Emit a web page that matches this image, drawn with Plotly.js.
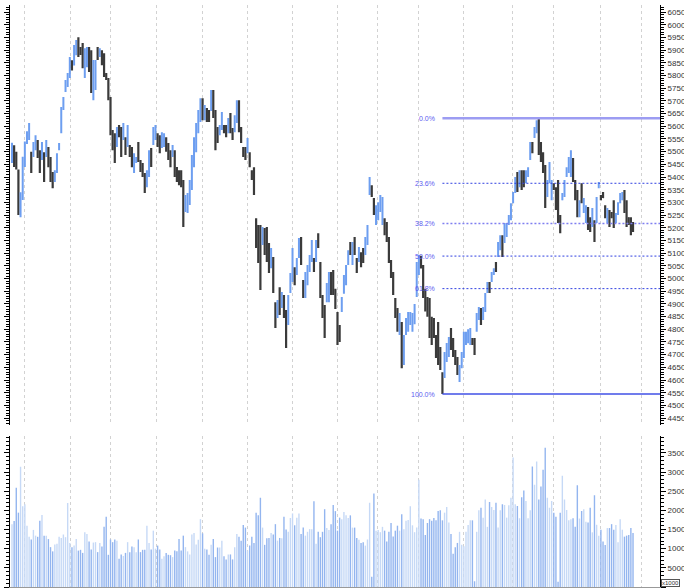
<!DOCTYPE html>
<html><head><meta charset="utf-8">
<script src="https://cdn.plot.ly/plotly-3.0.1.min.js"></script>
<style>html,body{margin:0;padding:0;background:#fff;}#chart{width:684px;height:588px;}</style>
</head><body><div id="chart"></div>
<script>
const openP = [
5470,5515,5465,5420,5260,5330,5460,5535,5560,5490,
5490,5515,5535,5495,5475,5490,5490,5510,5470,5410,
5385,5425,5510,5585,5670,5740,5765,5800,5855,5850,
5890,5940,5905,5915,5805,5845,5900,5885,5720,5755,
5905,5880,5890,5875,5805,5780,5700,5575,5560,5530,
5595,5585,5555,5545,5530,5520,5505,5425,5460,5525,
5460,5445,5405,5370,5410,5505,5535,5555,5565,5555,
5520,5525,5550,5525,5495,5485,5495,5430,5420,5415,
5375,5270,5265,5300,5360,5450,5510,5585,5625,5700,
5630,5665,5655,5665,5730,5650,5590,5570,5590,5600,
5595,5580,5640,5585,5585,5620,5690,5590,5510,5510,
5500,5490,5420,5425,5225,5195,5190,5140,5185,5190,
5125,5050,5070,4895,4855,4950,4890,4925,4860,4830,
4950,5000,5035,5020,5090,5150,4985,4935,4985,5035,
5075,5075,5075,5170,5050,4925,4880,4915,4920,5015,
5020,4950,4855,4810,4875,4950,4985,5060,5135,5065,
5155,5075,5070,5095,5110,5100,5140,5335,5360,5310,
5220,5240,5270,5225,5230,5215,5155,5065,5015,4915,
4875,4790,4815,4670,4785,4800,4825,4800,4830,4940,
5025,5080,5040,4950,4920,4905,4840,4835,4770,4815,
4720,4620,4620,4680,4700,4795,4755,4710,4680,4600,
4655,4700,4745,4750,4745,4760,4755,4800,4845,4875,
4845,4875,4950,4980,4990,5018,5060,5090,5120,5160,
5150,5170,5215,5240,5300,5345,5410,5365,5415,5420,
5380,5405,5475,5530,5560,5580,5620,5525,5490,5430,
5330,5385,5315,5370,5350,5375,5240,5312,5330,5405,
5420,5410,5465,5380,5340,5250,5365,5265,5225,5270,
5235,5210,5220,5225,5360,5325,5335,5280,5225,5260,
5258,5295,5222,5255,5300,5312,5340,5295,5238,5235,
5215];
const highP = [
5535,5525,5500,5430,5340,5480,5540,5580,5613,5500,
5538,5565,5546,5506,5538,5498,5546,5518,5479,5420,
5427,5494,5534,5676,5715,5782,5810,5873,5860,5920,
5940,5951,5912,5928,5908,5912,5912,5900,5861,5861,
5912,5908,5900,5888,5810,5790,5715,5585,5573,5597,
5605,5597,5613,5557,5605,5526,5518,5494,5479,5538,
5467,5455,5416,5427,5506,5514,5597,5605,5573,5565,
5577,5573,5557,5534,5506,5526,5506,5440,5427,5427,
5388,5329,5337,5388,5487,5557,5613,5664,5711,5711,
5684,5672,5664,5743,5743,5664,5597,5605,5656,5605,
5605,5633,5652,5593,5644,5703,5703,5597,5518,5518,
5554,5498,5427,5439,5238,5211,5211,5203,5199,5203,
5140,5120,5085,4907,4915,4966,4947,4935,4876,4935,
5022,5120,5045,5081,5160,5164,4994,5026,5053,5093,
5152,5081,5152,5179,5065,4935,4896,4982,5026,5026,
5034,4960,4868,4817,4927,5014,5053,5112,5144,5144,
5164,5081,5124,5104,5120,5164,5211,5400,5368,5317,
5289,5301,5329,5321,5238,5223,5164,5073,5026,4923,
4884,4864,4829,4778,4845,4868,4868,4864,4900,5065,
5093,5090,5053,4960,4927,4923,4849,4845,4778,4829,
4730,4631,4711,4746,4770,4805,4766,4718,4691,4659,
4711,4790,4790,4800,4805,4766,4766,4864,4888,4884,
4888,4943,4986,4986,5026,5041,5065,5144,5171,5171,
5219,5219,5250,5297,5341,5400,5420,5427,5427,5427,
5427,5439,5538,5538,5597,5624,5632,5538,5498,5447,
5388,5459,5388,5376,5360,5388,5250,5337,5388,5439,
5479,5506,5475,5388,5349,5309,5376,5317,5289,5282,
5242,5278,5230,5321,5380,5329,5341,5289,5278,5270,
5262,5309,5258,5301,5337,5341,5349,5309,5242,5242,
5223];
const lowP = [
5455,5440,5430,5250,5242,5310,5440,5530,5546,5416,
5479,5506,5475,5416,5467,5380,5479,5439,5380,5356,
5380,5416,5506,5573,5664,5735,5755,5790,5820,5840,
5880,5873,5881,5829,5790,5833,5814,5731,5703,5743,
5861,5873,5841,5794,5782,5703,5565,5506,5455,5518,
5557,5479,5546,5487,5518,5479,5439,5416,5455,5459,
5420,5400,5337,5360,5400,5440,5526,5546,5518,5494,
5514,5518,5500,5467,5439,5479,5400,5380,5368,5360,
5203,5262,5258,5290,5349,5439,5498,5573,5617,5624,
5624,5617,5617,5660,5633,5506,5534,5565,5585,5573,
5557,5573,5573,5546,5577,5613,5577,5534,5479,5467,
5494,5439,5388,5329,5120,5061,4955,5132,5093,5065,
5022,5041,4943,4805,4845,4856,4884,4845,4726,4817,
4943,4986,4974,5014,5081,5053,4923,4923,4974,5026,
5065,5026,5065,5120,4923,4845,4766,4907,4907,4935,
4935,4880,4738,4750,4868,4940,4974,5053,5093,5053,
5093,5022,5065,5045,5061,5093,5132,5329,5321,5250,
5211,5230,5262,5211,5171,5144,5061,5002,4935,4845,
4790,4778,4647,4659,4778,4790,4817,4790,4820,4927,
5014,5040,4923,4870,4849,4766,4738,4766,4687,4659,
4640,4545,4608,4671,4691,4718,4691,4659,4620,4592,
4647,4687,4738,4745,4738,4738,4699,4790,4837,4817,
4837,4868,4943,4943,4986,5014,5026,5085,5112,5085,
5140,5164,5211,5230,5297,5337,5341,5360,5349,5360,
5376,5400,5467,5494,5554,5573,5487,5459,5416,5278,
5321,5376,5309,5349,5270,5219,5179,5309,5321,5400,
5416,5400,5380,5309,5242,5242,5297,5258,5219,5191,
5183,5203,5144,5219,5356,5309,5317,5238,5219,5203,
5238,5199,5219,5250,5297,5309,5258,5203,5211,5171,
5183];
const closeP = [
5520,5455,5440,5265,5325,5465,5530,5575,5600,5430,
5530,5555,5485,5430,5525,5395,5535,5450,5395,5365,
5420,5485,5530,5665,5710,5775,5800,5865,5830,5910,
5930,5885,5890,5840,5895,5900,5825,5745,5845,5850,
5870,5900,5850,5805,5790,5715,5580,5520,5470,5585,
5565,5490,5600,5500,5590,5490,5450,5480,5475,5470,
5430,5410,5350,5415,5495,5450,5585,5595,5525,5505,
5570,5565,5510,5475,5450,5515,5410,5390,5375,5370,
5220,5320,5325,5380,5475,5545,5600,5655,5700,5635,
5675,5625,5625,5735,5645,5520,5545,5600,5645,5580,
5565,5625,5585,5555,5635,5690,5590,5545,5485,5475,
5545,5450,5395,5340,5135,5075,4975,5195,5105,5080,
5035,5110,4955,4815,4905,4870,4940,4855,4740,4925,
5010,5105,4985,5070,5150,5065,4935,5015,5045,5085,
5140,5035,5140,5130,4935,4855,4780,4970,5015,4945,
4950,4890,4750,4760,4920,5005,5045,5105,5100,5135,
5100,5030,5115,5055,5070,5155,5200,5390,5330,5260,
5280,5290,5320,5310,5180,5155,5070,5010,4945,4855,
4800,4855,4665,4765,4840,4860,4860,4855,4890,5050,
5085,5050,4935,4880,4860,4780,4750,4775,4700,4675,
4650,4560,4700,4735,4760,4730,4700,4670,4630,4650,
4700,4780,4785,4795,4800,4745,4710,4855,4880,4825,
4880,4935,4980,4950,5020,5035,5030,5135,5165,5095,
5210,5210,5245,5290,5335,5390,5350,5420,5360,5370,
5420,5435,5530,5500,5590,5615,5500,5470,5425,5295,
5380,5450,5380,5355,5280,5235,5190,5330,5380,5435,
5470,5495,5390,5320,5255,5300,5305,5310,5280,5200,
5190,5270,5155,5310,5375,5312,5320,5245,5270,5210,
5242,5210,5250,5295,5330,5335,5265,5215,5215,5180,
5195];
const volume = [
16400,17200,25900,19400,31400,21100,21600,16000,13100,12400,
14900,13400,13100,17300,18800,13400,13400,12500,10400,9300,
11100,11300,13100,12800,13700,13000,21900,11500,10400,10800,
12500,9500,9700,8900,14300,13800,11900,9800,11600,11700,
9100,11500,10600,15700,18300,8400,12400,11700,12400,12100,
7400,8500,8100,8900,11700,9100,10600,10400,9100,12400,
9100,9700,9700,16000,11500,9800,14700,10000,10800,9800,
7400,8000,8900,8400,8300,7800,9500,9300,12500,9500,
13400,10400,9300,8500,13700,14100,11100,12300,17700,14000,
10000,9800,8400,11000,12500,7800,10300,10300,12100,8000,
7200,8500,8500,7200,10400,13800,13100,12100,16200,15500,
9500,10800,13100,11500,19400,18700,23300,15500,11000,12700,
12800,14100,13700,16400,12100,12800,12700,18300,15000,14400,
18000,19200,16100,18100,19200,13800,15500,13400,14400,15100,
15100,22400,11300,14400,13000,14400,20300,15400,14900,16400,
21400,19800,14700,18100,
17700,19600,18700,18000,18700,15500,15500,12800,12300,11500,
11700,10800,12400,22000,2700,24400,14700,14900,14300,15700,
14700,11900,14400,16700,13200,14700,16000,14700,19000,15100,
17300,17500,21100,16100,14300,15500,28000,17900,17700,13600,
16700,17700,17300,18000,17400,19800,20000,17400,19400,
20900,16800,13800,8700,10400,11500,14400,11000,10650,14400,
16200,17400,17400,1500,14400,20000,20700,18100,22850,15700,
22160,20900,20100,22000,15500,20000,21560,21400,18100,21300,
23300,33760,21560,21130,17950,23450,25170,22420,17950,20000,
31440,26700,32730,22850,26200,30580,36340,23280,20700,22420,
19400,18300,1400,19400,29000,22850,20100,17400,17700,17950,
15700,26540,17870,19840,20270,17010,16840,20700,14260,
23960,16240,13400,14950,11850,10990,15380,15380,16400,14950,
16150,11680,17700,14950,13140,13400,13570,15380,14090];
const monthLines = [6, 27.5, 46, 67.5, 89, 110, 131, 152, 170.5, 190, 211, 233.5, 253, 275, 294];
const fibLevels = [0, 0.236, 0.382, 0.5, 0.618, 1];
const fibLabels = ['0.0%', '23.6%', '38.2%', '50.0%', '61.8%', '100.0%'];

const idx = closeP.map((_, i) => i);
const X_RANGE = [-0.93, 302.6];
const FONT = 'Liberation Sans, Arial, sans-serif';

let lowIdx = 0;
for (let i = 0; i < lowP.length; i++) if (lowP[i] < lowP[lowIdx]) lowIdx = i;
const fibLow = lowP[lowIdx];
const fibHigh = Math.max(...highP.slice(lowIdx));

const fibStyle = {
  0: {color: '#9c9cf2', width: 2.5, dash: 'solid'},
  0.382: {color: '#7f7ff0', width: 1.5, dash: '2px,2px'},
  1: {color: '#4050e6', width: 1.5, dash: 'solid'}
};
const shapes = [], annotations = [];
fibLevels.forEach((lv, k) => {
  const y = fibHigh - lv * (fibHigh - fibLow);
  const st = fibStyle[lv] || {color: '#3040e0', width: 1, dash: '2px,2px'};
  shapes.push({type: 'line', xref: 'x', yref: 'y', x0: lowIdx, x1: X_RANGE[1], y0: y, y1: y,
    line: {color: st.color, width: st.width, dash: st.dash}, layer: 'above'});
  annotations.push({xref: 'x', yref: 'y', x: lowIdx, y: y, xanchor: 'right', yanchor: 'middle',
    xshift: -5, text: fibLabels[k], showarrow: false, font: {family: FONT, size: 7, color: '#5c5cf0'}});
});
annotations.push({xref: 'paper', yref: 'paper', x: 1, y: 0, xanchor: 'left', yanchor: 'bottom',
  xshift: 1, text: 'x1000', showarrow: false, font: {family: FONT, size: 6, color: '#333'},
  bordercolor: '#555', borderwidth: 1, borderpad: 0, bgcolor: '#fff'});

const volColors = closeP.map((c, i) => c >= openP[i] ? '#c6d9f6' : '#93b5ef');

const traces = [
  {type: 'bar', x: idx, y: volume, xaxis: 'x', yaxis: 'y2',
   marker: {color: volColors, line: {width: 0}}, hoverinfo: 'skip'},
  {type: 'ohlc', x: idx, open: openP, high: highP, low: lowP, close: closeP,
   xaxis: 'x', yaxis: 'y', tickwidth: 0.2, hoverinfo: 'skip',
   increasing: {line: {color: '#6d9ef0', width: 2}},
   decreasing: {line: {color: '#3a3a3a', width: 2.2}}}
];

const yCommon = {side: 'right', anchor: 'x', ticks: 'outside', ticklen: 5, tickwidth: 1, tickcolor: '#000',
  showline: true, linecolor: '#000', linewidth: 1, mirror: 'ticks', showgrid: false, zeroline: false,
  tickfont: {family: FONT, size: 8, color: '#333'}, tickformat: 'd', fixedrange: true};

const layout = {
  width: 684, height: 588,
  margin: {l: 10, r: 24, t: 5, b: 1},
  paper_bgcolor: '#fff', plot_bgcolor: '#fff',
  showlegend: false, bargap: 0.35,
  font: {family: FONT, size: 8, color: '#333'},
  xaxis: {range: X_RANGE, tickmode: 'array', tickvals: monthLines, showticklabels: false, ticks: '',
    showgrid: true, gridcolor: '#d2d2d2', griddash: '3px,3px', gridwidth: 1, zeroline: false,
    showline: true, linecolor: '#999', linewidth: 1, anchor: 'y2', rangeslider: {visible: false}, fixedrange: true},
  yaxis: Object.assign({}, yCommon, {domain: [0.2784, 1], range: [4423, 6078], tickmode: 'linear', tick0: 0, dtick: 50,
    minor: {ticks: 'outside', dtick: 10, ticklen: 3, tickcolor: '#000', tickwidth: 1, showgrid: false}}),
  yaxis2: Object.assign({}, yCommon, {domain: [0, 0.2601], range: [1, 39500], tickmode: 'linear', tick0: 0, dtick: 5000,
    minor: {ticks: 'outside', dtick: 1000, ticklen: 3, tickcolor: '#000', tickwidth: 1, showgrid: false}}),
  shapes: shapes,
  annotations: annotations
};

Plotly.newPlot('chart', traces, layout, {staticPlot: true, displayModeBar: false});
</script>
</body></html>
